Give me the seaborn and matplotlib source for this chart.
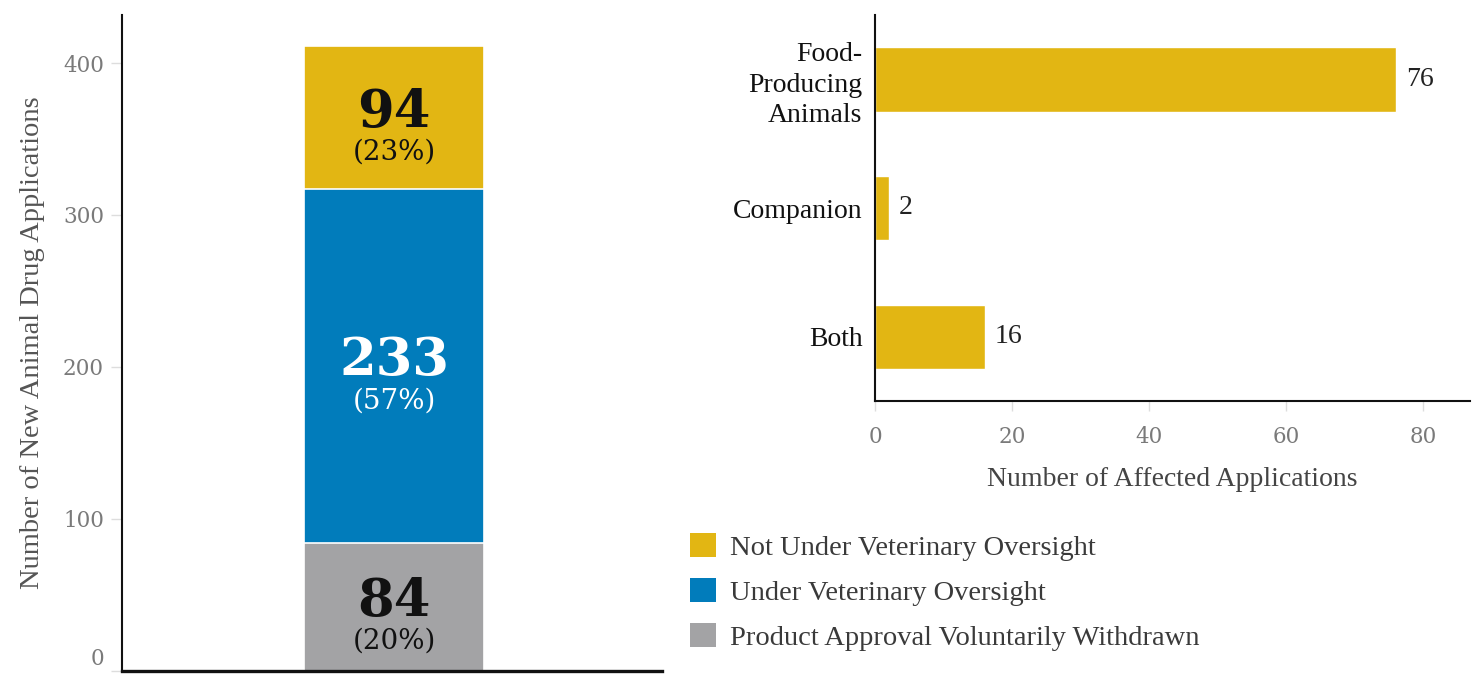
import numpy as np
import pandas as pd
import matplotlib
matplotlib.use("Agg")
import matplotlib.pyplot as plt
import matplotlib.transforms as mtransforms
from matplotlib.patches import Patch
import seaborn as sns

# Outcome of new animal drug applications (stacked, bottom to top)
status_labels = [
    "Product Approval Voluntarily Withdrawn",
    "Under Veterinary Oversight",
    "Not Under Veterinary Oversight",
]
status_counts = [84, 233, 94]
status_colors = ["#A3A3A5", "#017CBB", "#E2B613"]
status_text_colors = ["#111111", "#ffffff", "#111111"]

# Affected applications by species group
species_labels = ["Food-\nProducing\nAnimals", "Companion", "Both"]
species_counts = [76, 2, 16]

y_ticks = [0, 100, 200, 300, 400]
x_ticks = [0, 20, 40, 60, 80]

sns.set_style("white")
plt.rcParams["font.family"] = ["Liberation Serif", "DejaVu Serif"]

W, H = 1473, 678
fig = plt.figure(figsize=(W / 100, H / 100), dpi=100)

ax1 = fig.add_axes([122 / W, 1 - 670.6 / H, (662 - 122) / W, (670.6 - 15) / H])
ax2 = fig.add_axes([875 / W, 1 - 401 / H, (1470 - 875) / W, (401 - 15) / H])

tick_font = dict(family="DejaVu Serif", size=15.5)

# ---- left: stacked bar drawn as overlapping cumulative bars ----
cum = np.cumsum(status_counts)
bottoms = cum - np.array(status_counts)
total = int(np.sum(status_counts))
for i in reversed(range(len(status_counts))):
    sns.barplot(x=["All"], y=[cum[i]], color=status_colors[i], saturation=1,
                width=0.8, edgecolor="white", linewidth=1.2, ax=ax1)

for n, b, tc in zip(status_counts, bottoms, status_text_colors):
    mid = b + n / 2
    pct = round(100 * n / total)
    ax1.annotate(f"{n}", xy=(0, mid), xytext=(0, 4), textcoords="offset points",
                 ha="center", va="center", fontsize=38, fontweight="bold",
                 family="DejaVu Serif", color=tc)
    ax1.annotate(f"({pct}%)", xy=(0, mid), xytext=(0, -25), textcoords="offset points",
                 ha="center", va="center", fontsize=20, family="DejaVu Serif", color=tc)

ax1.set_xlim(-1.21, 1.19)
ax1.set_ylim(0, 431.6)
ax1.set_xticks([])
ax1.set_xlabel("")
ax1.set_yticks(y_ticks, [str(v) for v in y_ticks], fontdict=tick_font)
ax1.tick_params(axis="y", left=True, length=8, width=1, color="#dddddd", pad=5,
                labelcolor="#7a7a7a")
ax1.set_ylabel("Number of New Animal Drug Applications", fontsize=20.5, color="#555555")
ax1.yaxis.set_label_coords(-0.143, 0.5)
for s in ["top", "right"]:
    ax1.spines[s].set_visible(False)
ax1.spines["left"].set_linewidth(1.5)
ax1.spines["left"].set_color("#111111")
ax1.spines["bottom"].set_linewidth(2.4)
ax1.spines["bottom"].set_color("#111111")

# lift the zero label clear of the baseline
zero_lbl = ax1.yaxis.get_major_ticks()[0].label1
zero_lbl.set_transform(zero_lbl.get_transform()
                       + mtransforms.ScaledTranslation(0, 0.14, fig.dpi_scale_trans))

# ---- right: horizontal bars ----
df = pd.DataFrame({"species": species_labels, "count": species_counts})
sns.barplot(data=df, x="count", y="species", orient="h", color=status_colors[2],
            saturation=1, width=0.5, ax=ax2)
ax2.bar_label(ax2.containers[0], padding=7, fontsize=20, color="#222222")
ax2.set_xlim(0, 86.8)
ax2.set_ylim(2.5, -0.5)
ax2.set_xticks(x_ticks, [str(v) for v in x_ticks], fontdict=tick_font)
ax2.tick_params(axis="x", bottom=True, length=7, width=1, color="#dddddd", pad=11,
                labelcolor="#7a7a7a")
ax2.set_yticks(range(len(species_labels)), species_labels, fontsize=20,
               linespacing=1.3)
ax2.tick_params(axis="y", left=False, length=0, pad=9, labelcolor="#111111")
ax2.set_ylabel("")
ax2.set_xlabel("Number of Affected Applications", fontsize=20, color="#444444")
ax2.xaxis.set_label_coords(0.5, -0.172)
for s in ["top", "right"]:
    ax2.spines[s].set_visible(False)
for s in ["left", "bottom"]:
    ax2.spines[s].set_linewidth(1.5)
    ax2.spines[s].set_color("#111111")

# ---- legend ----
handles = [Patch(facecolor=c, edgecolor="none") for c in reversed(status_colors)]
fig.legend(handles, list(reversed(status_labels)), loc="upper left",
           bbox_to_anchor=(690 / W, 1 - 533 / H), frameon=False, fontsize=20.5,
           handlelength=0.92, handleheight=0.92, handletextpad=0.5,
           labelspacing=0.6, borderpad=0, borderaxespad=0, labelcolor="#3a3a3a")

fig.savefig("out.png", dpi=100)
